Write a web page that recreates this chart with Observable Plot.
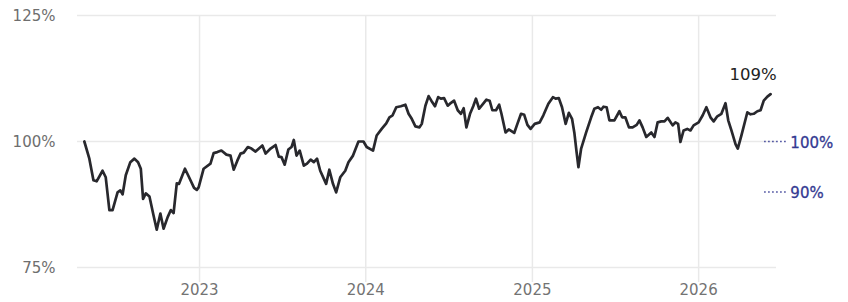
<!DOCTYPE html>
<html>
<head>
<meta charset="utf-8">
<script src="https://cdn.jsdelivr.net/npm/d3@7"></script>
<script src="https://cdn.jsdelivr.net/npm/@observablehq/plot@0.6"></script>
<style>
  html, body { margin: 0; padding: 0; background: #fff; }
  #chart { width: 848px; height: 302px; }
</style>
</head>
<body>
<div id="chart"></div>
<script>
// ---- data ----
const dates = [
  "2022-04-23","2022-05-04","2022-05-13","2022-05-20","2022-06-02","2022-06-09","2022-06-17","2022-06-24","2022-07-05","2022-07-11","2022-07-16","2022-07-23","2022-08-02","2022-08-11","2022-08-19","2022-08-25","2022-08-30","2022-09-05","2022-09-13","2022-09-22","2022-09-29","2022-10-07","2022-10-14","2022-10-23","2022-10-30","2022-11-05","2022-11-12","2022-11-17","2022-11-30","2022-12-09","2022-12-20","2022-12-26",
  "2022-12-30","2023-01-10","2023-01-25","2023-02-01","2023-02-09","2023-02-18","2023-03-01","2023-03-10","2023-03-17","2023-03-25","2023-04-01","2023-04-08","2023-04-17","2023-04-25","2023-05-04","2023-05-19","2023-05-26","2023-06-06","2023-06-17","2023-06-24","2023-06-30","2023-07-07","2023-07-15","2023-07-22","2023-07-27","2023-08-02","2023-08-09","2023-08-18","2023-08-25","2023-09-02","2023-09-09",
  "2023-09-16","2023-09-23","2023-10-06","2023-10-13","2023-10-21","2023-10-28","2023-11-06","2023-11-17","2023-11-24","2023-12-04","2023-12-16","2023-12-27","2024-01-03","2024-01-17","2024-01-25","2024-02-05","2024-02-15","2024-02-22","2024-02-29","2024-03-08","2024-03-18","2024-03-28","2024-04-04","2024-04-11","2024-04-19","2024-04-28","2024-05-03","2024-05-11","2024-05-18","2024-05-24",
  "2024-06-01","2024-06-08","2024-06-14","2024-06-21","2024-06-29","2024-07-04","2024-07-13","2024-07-21","2024-07-28","2024-08-03","2024-08-09","2024-08-17","2024-08-24","2024-08-30","2024-09-06","2024-09-15","2024-09-22","2024-09-29","2024-10-05","2024-10-13","2024-10-20","2024-10-25","2024-11-03","2024-11-10","2024-11-22","2024-11-29","2024-12-07","2024-12-14","2024-12-21","2024-12-28","2025-01-06","2025-01-17","2025-01-25","2025-02-05",
  "2025-02-15","2025-02-21","2025-02-28","2025-03-07","2025-03-15","2025-03-22","2025-03-29","2025-04-03","2025-04-08","2025-04-12","2025-04-18","2025-04-29","2025-05-10","2025-05-17","2025-05-25","2025-06-01","2025-06-06","2025-06-13","2025-06-19","2025-06-30","2025-07-11","2025-07-17","2025-07-24","2025-08-01","2025-08-09","2025-08-18","2025-08-24","2025-08-31","2025-09-08","2025-09-19","2025-09-26","2025-10-03","2025-10-11","2025-10-18","2025-10-25",
  "2025-11-05","2025-11-11","2025-11-17","2025-11-22","2025-11-29","2025-12-07","2025-12-14","2025-12-21","2026-01-01","2026-01-10","2026-01-18","2026-01-27","2026-02-03","2026-02-11","2026-02-20","2026-03-01","2026-03-07","2026-03-14","2026-03-23","2026-03-28","2026-04-05","2026-04-18","2026-04-25","2026-05-02","2026-05-10","2026-05-17","2026-05-24","2026-06-01","2026-06-08"
];
const values = [
  100, 96.6, 92.3, 92.1, 94.2, 92.9, 86.4, 86.4, 89.9, 90.3, 89.5, 93.3, 95.9, 96.6, 95.9, 94.6, 88.6, 89.7, 89.1, 85.3, 82.5, 85.7, 82.7, 85.0, 86.4, 85.8, 91.7, 91.6, 94.6, 92.9, 90.8, 90.4,
  90.9, 94.6, 95.6, 97.7, 97.9, 98.2, 97.4, 97.2, 94.4, 96.2, 97.6, 97.8, 98.9, 98.6, 98.0, 99.2, 97.6, 98.6, 99.3, 97.0, 96.9, 95.4, 98.4, 98.9, 100.3, 97.2, 98.2, 95.2, 95.6, 96.4, 95.9,
  96.6, 94.2, 91.6, 94.4, 91.6, 89.9, 92.9, 94.2, 95.9, 97.2, 100, 100, 98.9, 98.2, 101.2, 102.5, 103.6, 104.8, 105.2, 106.8, 107.0, 107.3, 105.5, 104.5, 103.0, 102.8, 103.5, 107.1, 109.0, 108.1,
  107.0, 108.8, 108.5, 108.6, 107.1, 107.5, 108.1, 106.2, 105.5, 106.6, 102.8, 105.5, 107.0, 108.5, 106.5, 107.5, 108.3, 108.1, 106.2, 106.2, 107.3, 105.5, 101.8, 102.4, 101.7, 103.5, 105.5, 105.3, 103.3, 102.5, 103.5, 103.8, 105.2, 107.5,
  108.8, 108.5, 108.6, 106.8, 103.5, 105.7, 104.5, 101.8, 97.9, 94.9, 98.6, 101.8, 104.8, 106.5, 106.8, 106.3, 106.9, 106.8, 104.2, 104.2, 106.0, 104.8, 104.8, 102.8, 102.8, 103.3, 104.2, 102.8, 100.9, 101.8, 100.9, 103.8, 104.0, 104.0, 104.7,
  103.2, 103.8, 103.5, 99.9, 102.2, 102.5, 102.2, 103.2, 103.8, 105.2, 106.8, 104.8, 104.0, 105.0, 105.5, 107.6, 104.2, 102.2, 99.5, 98.6, 101.2, 105.8, 105.4, 105.5, 106.0, 106.2, 108.1, 108.9, 109.4
];
const xDomain = ["2022-04-08", "2026-06-21"];
const yearTicks = ["2023-01-01", "2024-01-01", "2025-01-01", "2026-01-01"];
const yTicks = [75, 100, 125];
const refLevels = [100, 90];
const refLabels = ["100%", "90%"];

// ---- build ----
const parse = d3.utcParse("%Y-%m-%d");
const series = dates.map((d, i) => ({date: parse(d), value: values[i]}));
const last = series[series.length - 1];
const xd = xDomain.map(parse);
const years = yearTicks.map(parse);
const refs = refLevels.map((v, i) => ({
  value: v, label: refLabels[i],
  x1: d3.utcDay.offset(xd[1], -26), x2: d3.utcDay.offset(xd[1], 26)
}));

const grid = "#e9e9e9";
const chart = Plot.plot({
  width: 848,
  height: 302,
  marginLeft: 77,
  marginRight: 72,
  marginTop: 15,
  marginBottom: 35,
  style: {fontFamily: "DejaVu Sans", fontSize: "15px", background: "#fff", overflow: "visible"},
  x: {type: "utc", domain: xd},
  y: {domain: [75, 125]},
  marks: [
    Plot.ruleY(yTicks, {stroke: grid, strokeWidth: 1.5}),
    Plot.ruleX(years, {stroke: grid, strokeWidth: 1.5}),
    Plot.axisX({ticks: years, tickFormat: d3.utcFormat("%Y"), tickSize: 15, tickPadding: 2,
      stroke: grid, strokeWidth: 1.5, fill: "#737373", fontSize: 15, label: null}),
    Plot.axisY({ticks: yTicks, tickFormat: d => d + "%", tickSize: 0, tickPadding: 22,
      fill: "#6e6e6e", fontSize: 15, label: null, dy: 1}),
    Plot.line(series, {x: "date", y: "value", stroke: "#28282d", strokeWidth: 2.7,
      strokeLinejoin: "round", strokeLinecap: "round"}),
    Plot.text([last], {x: "date", y: "value", text: d => Math.round(d.value) + "%",
      textAnchor: "end", dx: 6, dy: -19, fill: "#222", fontSize: 16.5}),
    Plot.ruleY(refs, {y: "value", x1: "x1", x2: "x2", stroke: "#3a3f96",
      strokeWidth: 1.5, strokeDasharray: "1.5,2.5"}),
    Plot.text(refs, {y: "value", x: "x2", text: "label", textAnchor: "start", dx: 2, dy: 1.5,
      fill: "#343a92", fontSize: 15, stroke: "#343a92", strokeWidth: 0.3})
  ]
});
document.getElementById("chart").appendChild(chart);
</script>
</body>
</html>
